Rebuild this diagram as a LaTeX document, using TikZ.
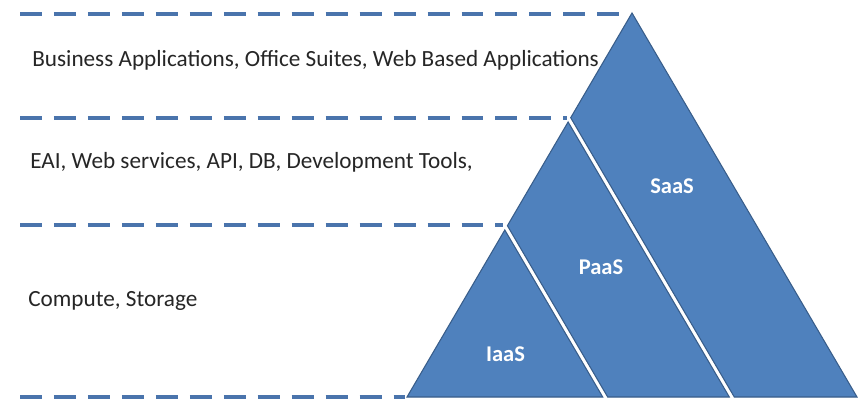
\documentclass[tikz,border=0pt]{standalone}
\usepackage{fontspec}
\setmainfont{Carlito}
\definecolor{tri}{HTML}{4F81BD}
\definecolor{triline}{HTML}{385D8A}
\definecolor{dashc}{HTML}{4A74AC}
\definecolor{txt}{HTML}{262626}
\tikzset{
  layer/.style={fill=tri, draw=triline, line width=0.6pt, line join=miter},
  sep/.style={draw=dashc, line width=2pt, dash pattern=on 12.5pt off 6.83pt},
  desc/.style={anchor=base west, inner sep=0pt, text=txt, font=\fontsize{13.2pt}{15pt}\selectfont},
  lab/.style={inner sep=0pt, text=white, font=\bfseries\fontsize{12.8pt}{15pt}\selectfont}
}
\begin{document}
\begin{tikzpicture}[x=0.02cm, y=-0.02cm]
\useasboundingbox[fill=white] (0,0) rectangle (864,399);
% separator lines
\coordinate (s1a) at (20,14);  \coordinate (s1b) at (623,14);
\coordinate (s2a) at (20,118); \coordinate (s2b) at (567,118);
\coordinate (s3a) at (20,225); \coordinate (s3b) at (503,225);
\coordinate (s4a) at (20,397); \coordinate (s4b) at (405,397);
\draw[sep] (s1a) -- (s1b);
\draw[sep] (s2a) -- (s2b);
\draw[sep] (s3a) -- (s3b);
\draw[sep] (s4a) -- (s4b);
% layers
\draw[layer] (632,13) -- (857,397) -- (734.3,397) -- (570.7,117.7) -- cycle;
\draw[layer] (568.1,122) -- (729.3,397) -- (607.7,397) -- (507.4,225.7) -- cycle;
\draw[layer] (504.8,230) -- (602.7,397) -- (407,397) -- cycle;
% labels
\node[lab] (saas) at (672,186) {SaaS};
\node[lab] (paas) at (601,267) {PaaS};
\node[lab] (iaas) at (505.5,354) {IaaS};
% descriptions
\node[desc] (d1) at (32,66) {Business Applications, Office Suites, Web Based Applications};
\node[desc] (d2) at (30,168) {EAI, Web services, API, DB, Development Tools,};
\node[desc] (d3) at (28,306) {Compute, Storage};
\end{tikzpicture}
\end{document}
